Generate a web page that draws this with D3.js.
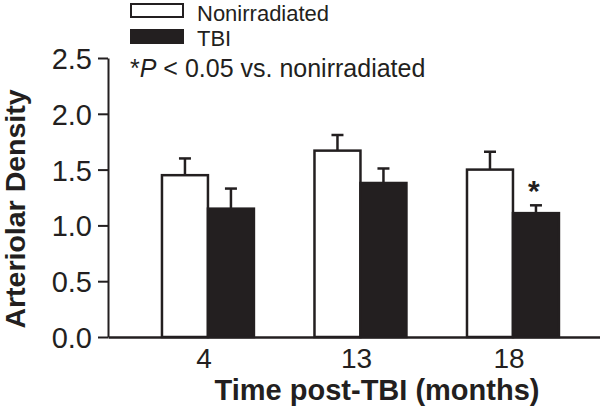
<!DOCTYPE html>
<html>
<head>
<meta charset="utf-8">
<script src="https://cdn.jsdelivr.net/npm/d3@7"></script>
<style>
  html, body { margin: 0; padding: 0; background: #fff; }
  svg { display: block; }
  text { font-family: "Liberation Sans", Arial, Helvetica, sans-serif; fill: #231f20; }
</style>
</head>
<body>
<svg id="chart" width="600" height="419"></svg>
<script>
const categories = ["4", "13", "18"];
const seriesNames = ["Nonirradiated", "TBI"];
const nonirradiatedMean = [1.45, 1.67, 1.50];
const nonirradiatedErr = [0.15, 0.14, 0.16];
const tbiMean = [1.15, 1.38, 1.11];
const tbiErr = [0.18, 0.13, 0.07];
const significant = [false, false, true];
const yTicks = [0.0, 0.5, 1.0, 1.5, 2.0, 2.5];

const ink = "#231f20";
const svg = d3.select("#chart");

const y = d3.scaleLinear().domain([0, 2.5]).range([337, 58]);
const x = d3.scaleBand().domain(categories).range([108, 600])
  .paddingInner(0.397).paddingOuter(0.3115).align(0.568);
const xs = d3.scaleBand().domain(seriesNames).range([0, x.bandwidth()]);

const data = [];
categories.forEach((c, i) => {
  data.push({cat: c, s: "Nonirradiated", v: nonirradiatedMean[i], e: nonirradiatedErr[i], sig: false});
  data.push({cat: c, s: "TBI", v: tbiMean[i], e: tbiErr[i], sig: significant[i]});
});

// error bars
const eb = svg.append("g");
data.forEach(d => {
  const cx = x(d.cat) + xs(d.s) + xs.bandwidth() / 2;
  eb.append("line").attr("x1", cx).attr("x2", cx)
    .attr("y1", y(d.v)).attr("y2", y(d.v + d.e))
    .attr("stroke", ink).attr("stroke-width", 2.5);
  eb.append("line").attr("x1", cx - 6).attr("x2", cx + 6)
    .attr("y1", y(d.v + d.e)).attr("y2", y(d.v + d.e))
    .attr("stroke", ink).attr("stroke-width", 2.5);
});

// bars
svg.append("g").selectAll("rect").data(data).join("rect")
  .attr("x", d => x(d.cat) + xs(d.s))
  .attr("y", d => y(d.v))
  .attr("width", xs.bandwidth())
  .attr("height", d => y(0) - y(d.v))
  .attr("fill", d => d.s === "TBI" ? ink : "#fff")
  .attr("stroke", ink).attr("stroke-width", 2.5);

// significance star
svg.append("g").selectAll("text").data(data.filter(d => d.sig)).join("text")
  .attr("x", d => x(d.cat) + xs(d.s) + xs.bandwidth() / 2 - 2)
  .attr("y", d => y(d.v + d.e) - 4)
  .attr("text-anchor", "middle")
  .attr("font-size", 30).attr("font-weight", "bold")
  .text("*");

// y axis
const yAxis = svg.append("g").attr("transform", "translate(108,0)")
  .call(d3.axisLeft(y).tickValues(yTicks).tickFormat(d3.format(".1f")).tickSize(10).tickSizeOuter(0).tickPadding(6));
yAxis.selectAll("path, line").attr("stroke", ink).attr("stroke-width", 2);
yAxis.selectAll("text").attr("font-size", 29).attr("fill", ink).attr("dy", "0.36em");

// x axis
const xAxis = svg.append("g").attr("transform", "translate(0,337)")
  .call(d3.axisBottom(x).tickSize(0).tickSizeOuter(0).tickPadding(11));
xAxis.select(".domain").attr("stroke", ink).attr("stroke-width", 2.5);
xAxis.selectAll("text").attr("font-size", 28).attr("fill", ink).attr("dy", "0.71em").attr("dx", -4);

// axis titles
svg.append("text").attr("x", 377).attr("y", 400)
  .attr("text-anchor", "middle").attr("font-size", 29).attr("font-weight", "bold")
  .text("Time post-TBI (months)");
svg.append("text").attr("transform", "translate(25,209) rotate(-90)")
  .attr("text-anchor", "middle").attr("font-size", 28.5).attr("font-weight", "bold")
  .text("Arteriolar Density");

// legend
const legend = svg.append("g");
seriesNames.forEach((s, i) => {
  legend.append("rect").attr("x", 131).attr("y", 4 + i * 26).attr("width", 52).attr("height", 13)
    .attr("fill", i === 0 ? "#fff" : ink).attr("stroke", ink).attr("stroke-width", 2);
  legend.append("text").attr("x", 197).attr("y", 21 + i * 25).attr("font-size", 22).text(s);
});
const note = legend.append("text").attr("x", 130).attr("y", 77).attr("font-size", 25);
note.append("tspan").text("*");
note.append("tspan").attr("font-style", "italic").text("P");
note.append("tspan").text(" < 0.05 vs. nonirradiated");
</script>
</body>
</html>
